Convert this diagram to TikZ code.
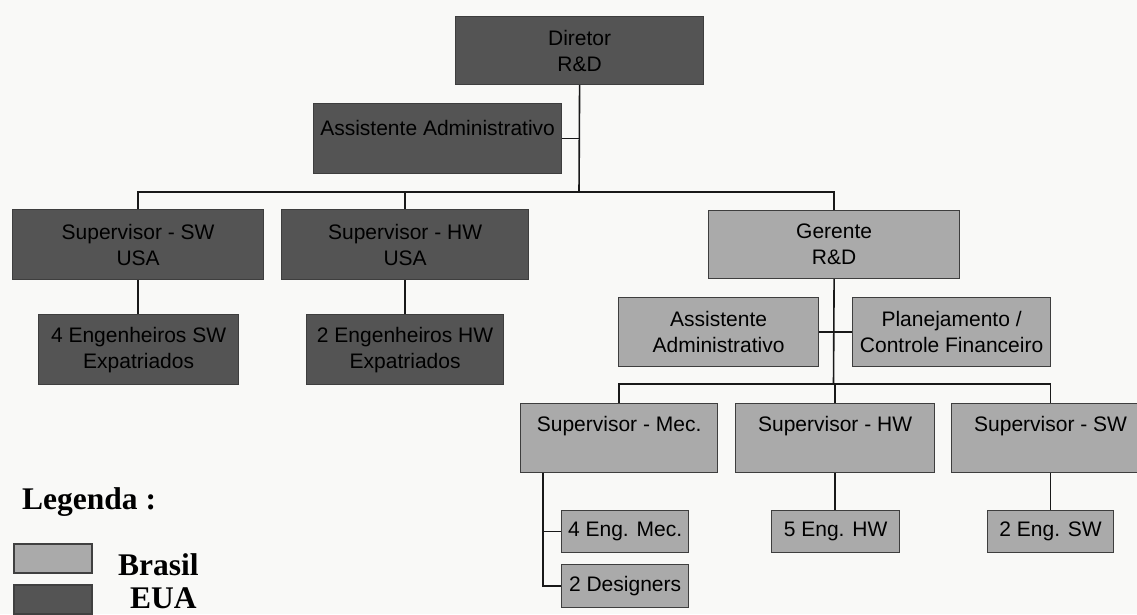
\documentclass[tikz,border=0pt]{standalone}
\usepackage{fontspec}
\setmainfont{Liberation Sans}
\newfontfamily\legendfont{Liberation Serif}
\usetikzlibrary{calc}

\definecolor{usafill}{RGB}{84,84,84}
\definecolor{brfill}{RGB}{170,170,170}
\definecolor{edgecol}{RGB}{62,62,62}
\definecolor{paper}{RGB}{249,249,247}

\tikzset{
  unit/.style={draw=edgecol, line width=1.2pt, inner sep=0pt, anchor=north west,
               align=center, font=\fontsize{21}{26}\selectfont},
  usa/.style={unit, fill=usafill},
  br/.style={unit, fill=brfill},
  wire/.style={line width=1.6pt, draw=black!90},
  legbox/.style={draw=black!75, line width=1.6pt, inner sep=0pt, anchor=north west,
                 minimum width=78pt, minimum height=29pt},
  legtext/.style={anchor=base west, inner sep=0pt,
                  font=\legendfont\bfseries\fontsize{31.5}{36}\selectfont}
}

\begin{document}
\begin{tikzpicture}[x=1pt,y=-1pt]
  \useasboundingbox (0,0) rectangle (1137,614);
  \fill[paper] (0,0) rectangle (1137,614);

  % ---- USA branch ----
  \node[usa, minimum width=248pt, minimum height=68pt] (dir) at (455,16) {Diretor\\R\&D};
  \node[usa, minimum width=248pt, text height=31.5pt, text depth=38.5pt] (asst1) at (313,103) {Assistente Administrativo};
  \node[usa, minimum width=251pt, minimum height=70pt] (supswusa) at (12,209) {Supervisor - SW\\USA};
  \node[usa, minimum width=247pt, minimum height=70pt] (suphwusa) at (281,209) {Supervisor - HW\\USA};
  \node[usa, minimum width=200pt, minimum height=70pt] (engswusa) at (38,314) {4 Engenheiros SW\\Expatriados};
  \node[usa, minimum width=197pt, minimum height=70pt] (enghwusa) at (306,314) {2 Engenheiros HW\\Expatriados};

  % ---- Brazil branch ----
  \node[br, minimum width=251pt, minimum height=68pt] (ger) at (708,210) {Gerente\\R\&D};
  \node[br, minimum width=200pt, minimum height=69pt] (asst2) at (618,297) {Assistente\\Administrativo};
  \node[br, minimum width=198pt, minimum height=69pt] (plan) at (852,297) {Planejamento /\\Controle Financeiro};
  \node[br, minimum width=197pt, text height=27.5pt, text depth=41.5pt] (supmec) at (520,403) {Supervisor - Mec.};
  \node[br, minimum width=199pt, text height=27.5pt, text depth=41.5pt] (suphw) at (735,403) {Supervisor - HW};
  \node[br, minimum width=198pt, text height=27.5pt, text depth=41.5pt] (supsw) at (951,403) {Supervisor - SW};
  \node[br, minimum width=127pt, minimum height=42pt] (engmec) at (561,510) {4 Eng. Mec.};
  \node[br, minimum width=127pt, minimum height=43pt] (designers) at (561,564) {2 Designers};
  \node[br, minimum width=128pt, minimum height=42pt] (enghw) at (771,510) {5 Eng. HW};
  \node[br, minimum width=126pt, minimum height=42pt] (engsw) at (987,510) {2 Eng. SW};

  % ---- connectors ----
  \coordinate (topbus) at (579,192);
  \draw[wire] (dir.south) -- (topbus);
  \draw[wire] (asst1.east) -- (asst1.east -| dir.south);
  \draw[wire] (topbus) -| (supswusa.north);
  \draw[wire] (topbus) -| (suphwusa.north);
  \draw[wire] (topbus) -| (ger.north);
  \draw[wire] (supswusa.south) -- (supswusa.south |- engswusa.north);
  \draw[wire] (suphwusa.south) -- (suphwusa.south |- enghwusa.north);

  \coordinate (lowbus) at (833.5,384);
  \draw[wire] (ger.south) -- (lowbus);
  \draw[wire] (asst2.east) -- (plan.west);
  \draw[wire] (lowbus) -| (supmec.north);
  \draw[wire] (lowbus) -| (suphw.north);
  \draw[wire] (lowbus) -| (supsw.north);

  \coordinate (mecstem) at ($(supmec.south west)+(23,0)$);
  \draw[wire] (mecstem) |- (designers.west);
  \draw[wire] (mecstem |- engmec.west) -- (engmec.west);
  \draw[wire] (suphw.south) -- (suphw.south |- enghw.north);
  \draw[wire] (supsw.south) -- (supsw.south |- engsw.north);

  % ---- legend ----
  \node[legtext] (legtitle) at (22,509) {Legenda :};
  \node[legbox, fill=brfill] (legbr) at (13,543) {};
  \node[legbox, fill=usafill] (legusa) at (13,584) {};
  \node[legtext] (legbrtext) at (118,575) {Brasil};
  \node[legtext] (legusatext) at (130,608) {EUA};
\end{tikzpicture}
\end{document}
